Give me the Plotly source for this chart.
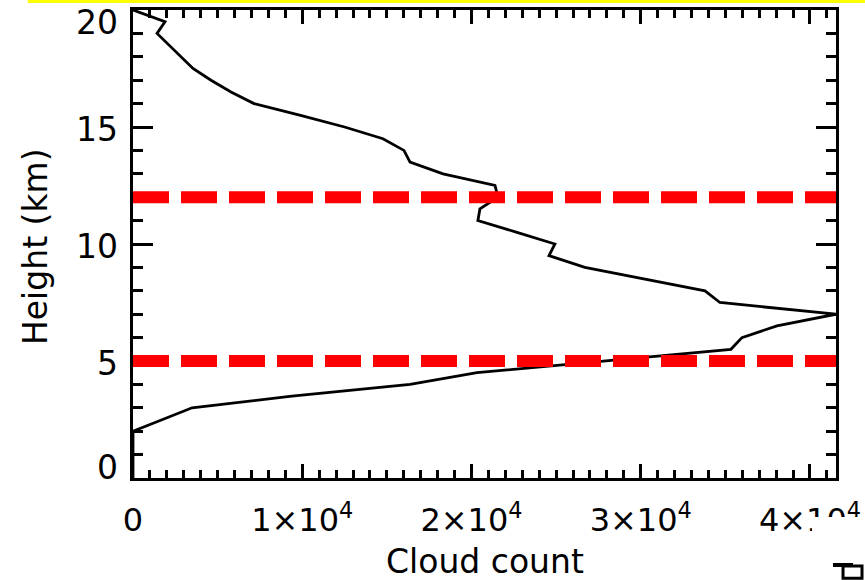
import plotly.graph_objects as go

# Vertical profile of cloud occurrence
height_km = [0.0, 0.5, 1.0, 1.5, 2.0, 2.5, 3.0, 3.5, 4.0, 4.5, 5.0, 5.5, 6.0, 6.5,
             7.0, 7.5, 8.0, 8.5, 9.0, 9.5, 10.0, 10.5, 11.0, 11.5, 12.0, 12.5,
             13.0, 13.5, 14.0, 14.5, 15.0, 15.5, 16.0, 16.5, 17.0, 17.5, 18.0,
             18.5, 19.0, 19.5, 20.0]
cloud_count = [0, 0, 0, 0, 0, 1750, 3490, 9390, 16370, 20330, 27800, 35330,
               35980, 38050, 41540, 34680, 33800, 30250, 26700, 24580, 24930,
               22690, 20380, 20500, 21570, 21390, 18320, 16370, 16010, 14770,
               12500, 9900, 7150, 5790, 4610, 3545, 2840, 2130, 1420, 1890, 0]

# Layer boundaries marked with dashed lines
boundary_km = [12, 5]

x_tick_vals = [0, 10000, 20000, 30000, 40000]
x_tick_text = ["0", "1×10<sup>4</sup>", "2×10<sup>4</sup>",
               "3×10<sup>4</sup>", "4×10<sup>4</sup>"]
y_tick_vals = [0, 5, 10, 15, 20]
y_tick_text = ["0", "5", "10", "15", "20"]

FONT = "DejaVu Sans"
x_max = max(cloud_count)

fig = go.Figure()
fig.add_trace(go.Scatter(
    x=cloud_count, y=height_km, mode="lines",
    line=dict(color="black", width=2.8), showlegend=False, hoverinfo="skip"))

for h in boundary_km:
    fig.add_trace(go.Scatter(
        x=[0, x_max], y=[h, h], mode="lines",
        line=dict(color="#ff0000", width=12, dash="36px,12px"),
        showlegend=False, hoverinfo="skip"))

axis_common = dict(
    showline=True, linecolor="black", linewidth=2.5, mirror="allticks",
    showgrid=False, zeroline=False, ticks="inside", tickcolor="black",
    tickwidth=2.5, layer="below traces", automargin=False,
)

fig.update_xaxes(
    range=[0, x_max], tickvals=x_tick_vals, ticktext=x_tick_text, ticklen=14,
    tickfont=dict(family=FONT, size=32, color="black"),
    ticklabelstandoff=12,
    minor=dict(dtick=1000, ticks="inside", ticklen=8, tickwidth=2.5,
               tickcolor="black"),
    **axis_common)
fig.update_yaxes(
    range=[0, 20], tickvals=y_tick_vals, showticklabels=False, ticklen=20,
    minor=dict(dtick=1, ticks="inside", ticklen=10, tickwidth=2.5,
               tickcolor="black"),
    **axis_common)

# y tick labels (end labels kept inside the frame height)
label_shift = {0: 11, 20: -12}
annotations = []
for v, t in zip(y_tick_vals, y_tick_text):
    annotations.append(dict(
        x=0, xref="paper", y=v, yref="y", text=t, showarrow=False,
        xanchor="right", yanchor="middle", xshift=-13,
        yshift=label_shift.get(v, -2),
        font=dict(family=FONT, size=33, color="black")))

annotations.append(dict(
    x=0, xref="paper", y=0.5, yref="paper", text="Height (km)",
    showarrow=False, textangle=-90, xanchor="center", yanchor="middle",
    xshift=-98, yshift=-3, font=dict(family=FONT, size=33, color="black")))
annotations.append(dict(
    x=0.5, xref="paper", y=0, yref="paper", text="Cloud count",
    showarrow=False, xanchor="center", yanchor="middle", yshift=-83,
    font=dict(family=FONT, size=33, color="black")))

shapes = [
    # thin yellow band along the top edge
    dict(type="rect", xref="paper", yref="paper", x0=-0.1497, x1=1.0412,
         y0=1.0150, y1=1.0214, fillcolor="#ffff00", line=dict(width=0),
         layer="above"),
    # white patch over the lower right corner
    dict(type="rect", xref="paper", yref="paper", x0=0.9659, x1=1.0412,
         y0=-0.0833, y1=-0.1752, fillcolor="white", line=dict(width=0),
         layer="above"),
    # small mark in the bottom right corner
    dict(type="rect", xref="paper", yref="paper", x0=0.9957, x1=1.0242,
         y0=-0.1816, y1=-0.1902, fillcolor="black", line=dict(width=0),
         layer="above"),
    dict(type="rect", xref="paper", yref="paper", x0=1.0100, x1=1.0370,
         y0=-0.1880, y1=-0.2140, fillcolor="white",
         line=dict(color="black", width=3), layer="above"),
]

fig.update_layout(
    width=865, height=580,
    margin=dict(l=133, r=29, t=10, b=102, autoexpand=False),
    paper_bgcolor="white", plot_bgcolor="white",
    font=dict(family=FONT, color="black"),
    annotations=annotations, shapes=shapes, showlegend=False,
)

fig.write_html("out.html")
